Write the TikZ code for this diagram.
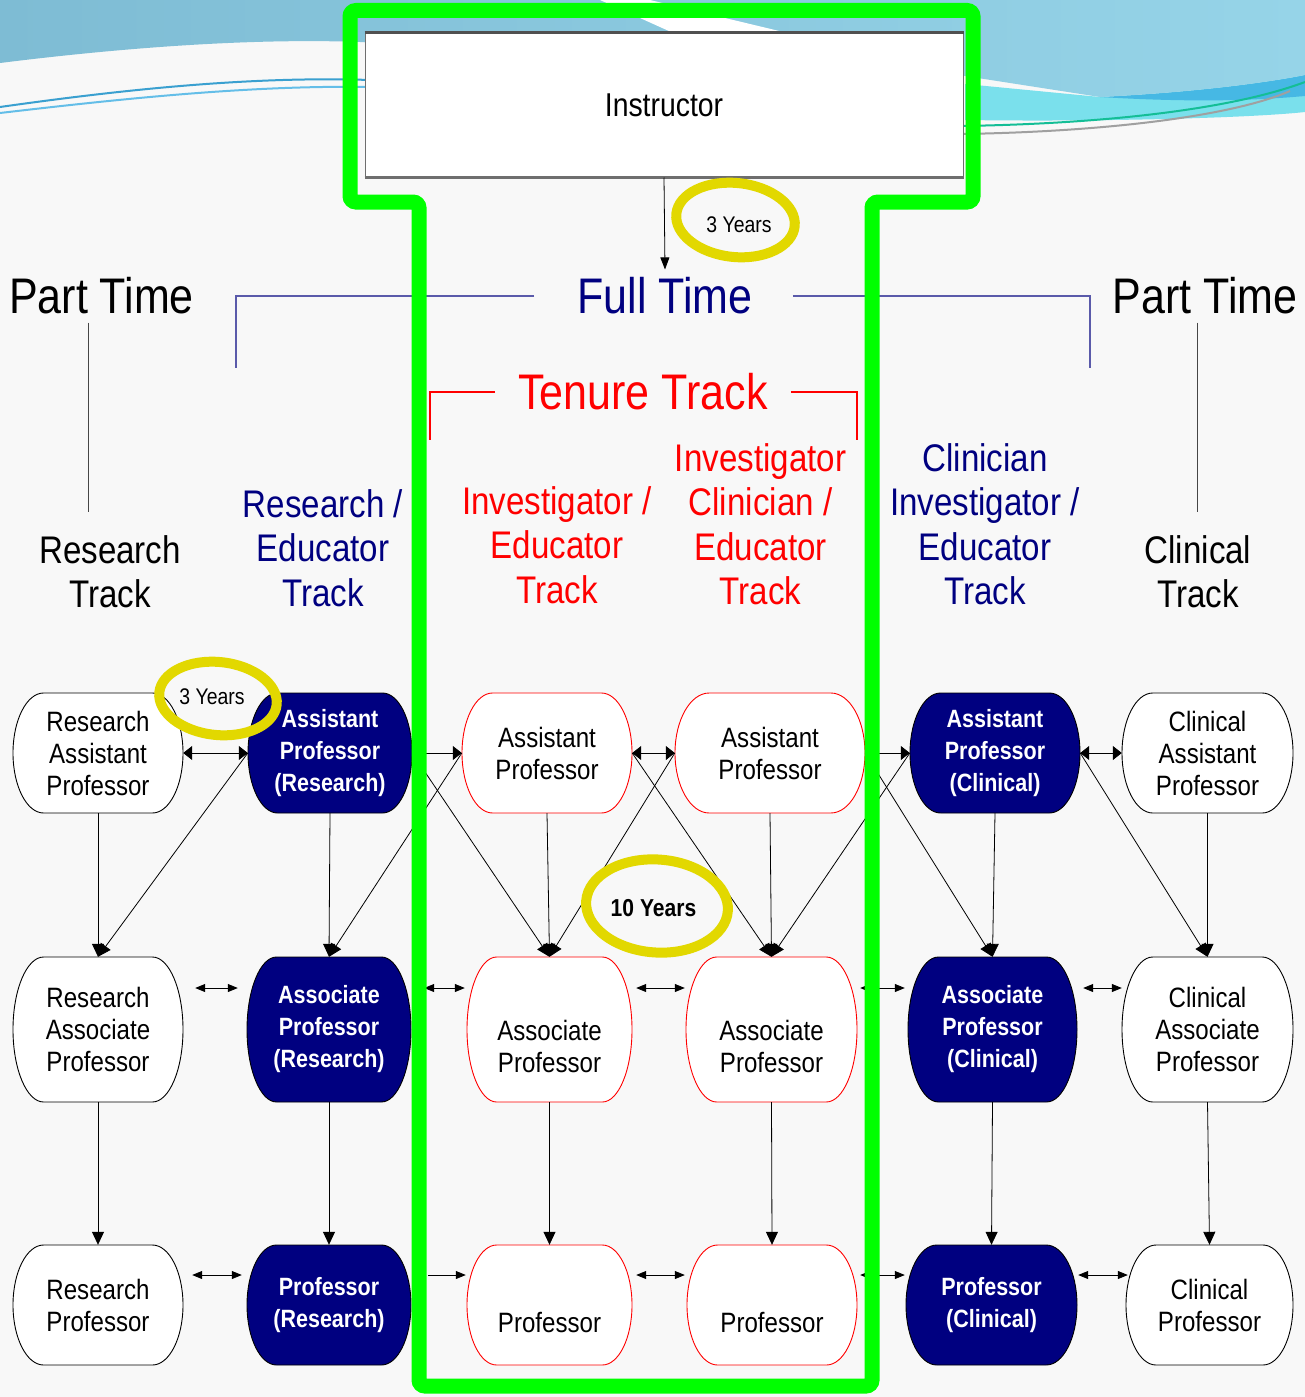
\documentclass[tikz,border=0pt]{standalone}
\usepackage{fontspec}
\setmainfont{Liberation Sans}[FakeStretch=0.86]
\usetikzlibrary{arrows.meta,calc}
\definecolor{navy}{RGB}{0,0,128}
\definecolor{tred}{RGB}{255,0,0}
\definecolor{brblue}{RGB}{90,90,170}
\definecolor{ylw}{RGB}{226,216,0}
\definecolor{grn}{RGB}{0,255,0}
\definecolor{bgc}{RGB}{248,248,248}
\definecolor{skyA}{RGB}{126,188,212}
\definecolor{skyB}{RGB}{150,212,232}
\definecolor{cyanband}{RGB}{122,224,236}
\definecolor{darkband}{RGB}{70,184,228}
\definecolor{lineA}{RGB}{58,160,208}
\definecolor{lineB}{RGB}{100,190,232}
\definecolor{lineT}{RGB}{20,190,150}
\definecolor{lineG}{RGB}{160,160,160}
\definecolor{insgray}{RGB}{110,110,110}
\definecolor{ptgray}{RGB}{70,70,70}
\definecolor{insdark}{RGB}{80,80,80}
\newcommand\gbox[8]{%
  \path[#2] ({#4-#6/2+0.18*#6},{#5-#7/2}) -- ({#4+#6/2-0.18*#6},{#5-#7/2})
    .. controls ({#4+#6/2-0.081*#6},{#5-#7/2}) and ({#4+#6/2},{#5-0.276*#7}) .. ({#4+#6/2},{#5})
    .. controls ({#4+#6/2},{#5+0.276*#7}) and ({#4+#6/2-0.081*#6},{#5+#7/2}) .. ({#4+#6/2-0.18*#6},{#5+#7/2})
    -- ({#4-#6/2+0.18*#6},{#5+#7/2})
    .. controls ({#4-#6/2+0.081*#6},{#5+#7/2}) and ({#4-#6/2},{#5+0.276*#7}) .. ({#4-#6/2},{#5})
    .. controls ({#4-#6/2},{#5-0.276*#7}) and ({#4-#6/2+0.081*#6},{#5-#7/2}) .. ({#4-#6/2+0.18*#6},{#5-#7/2})
    -- cycle;
  \node[#3, minimum width=#6, minimum height=#7] (#1) at (#4,#5) {#8};
}
\tikzset{
  wsh/.style={fill=white, draw=black, line width=0.9pt},
  rsh/.style={fill=white, draw=tred, line width=0.9pt},
  nsh/.style={fill=navy, draw=black, line width=0.9pt},
  wtxt/.style={align=center, inner sep=0pt, text=black, font=\fontsize{28}{32}\selectfont},
  ntxt/.style={align=center, inner sep=0pt, text=white, font=\fontsize{25}{32}\selectfont\bfseries},
  ttl/.style={inner sep=0pt, font=\fontsize{50}{56}\selectfont},
  hdr/.style={align=center, inner sep=0pt, font=\fontsize{38.5}{44.5}\selectfont},
  conn/.style={draw=black, line width=0.8pt},
  bigtip/.style={-{Triangle[length=13pt,width=12pt]}},
  htip/.style={{Triangle[length=9pt,width=14pt]}-{Triangle[length=9pt,width=14pt]}},
  htipr/.style={-{Triangle[length=9pt,width=14pt]}},
  stip/.style={{Triangle[length=10pt,width=8pt]}-{Triangle[length=10pt,width=8pt]}},
  stipr/.style={-{Triangle[length=10pt,width=8pt]}},
  brk/.style={draw=brblue, line width=1.2pt},
  rbrk/.style={draw=tred, line width=1.2pt},
  ptline/.style={draw=ptgray, line width=1pt},
  ring/.style={draw=ylw, line width=10pt},
  yrs/.style={inner sep=0pt, text=black, font=\fontsize{22.6}{26}\selectfont},
  yrsb/.style={inner sep=0pt, text=black, font=\fontsize{24.5}{28}\selectfont\bfseries},
}
\begin{document}
\begin{tikzpicture}[x=1pt,y=-1pt]
\useasboundingbox (0,0) rectangle (1305,1397);
% background
\fill[bgc] (0,0) rectangle (1305,1397);
\fill[cyanband] (965,84) -- (1100,97) .. controls (1200,92) and (1270,82) .. (1305,75)
  -- (1305,112) .. controls (1250,118) and (1100,122) .. (965,120) -- cycle;
\fill[darkband] (1100,97) .. controls (1200,92) and (1270,82) .. (1305,75)
  -- (1305,96) .. controls (1260,100) and (1200,103) .. (1100,97) -- cycle;
\shade[left color=skyA, right color=skyB] (0,0) -- (1305,0) -- (1305,75)
  .. controls (1270,82) and (1200,92) .. (1100,97) -- (965,76) -- (700,60) -- (360,42)
  .. controls (250,38) and (120,48) .. (0,63) -- cycle;
\fill[white] (600,0) -- (650,0) -- (800,36) -- (680,36) -- cycle;
\draw[lineA, line width=2pt] (0,107) .. controls (120,90) and (250,76) .. (370,80);
\draw[lineB, line width=2pt] (0,113) .. controls (120,99) and (250,85) .. (370,87);
\draw[lineT, line width=2pt] (960,126) .. controls (1100,124) and (1230,110) .. (1305,82);
\draw[lineG, line width=2pt] (960,134) .. controls (1100,132) and (1230,117) .. (1290,91);
% instructor
\node[draw=insgray, fill=white, line width=1pt, minimum width=598, minimum height=144,
  inner sep=0pt, font=\fontsize{33}{38}\selectfont] (INS) at (664,105) {Instructor};
\draw[line width=2.5pt, draw=insdark] (INS.north west) -- (INS.north east);
\draw[line width=2.5pt, draw=insgray] (INS.south west) -- (INS.south east);
% titles
\node[ttl, text=black] (PTL) at (101.5,296) {Part Time};
\node[ttl, text=navy] (FT) at (665,296) {Full Time};
\node[ttl, text=black] (PTR) at (1205,296) {Part Time};
\node[ttl, text=tred] (TT) at (643,392) {Tenure Track};
\draw[conn, -{Triangle[length=12pt,width=9pt]}] (INS.south) -- ([yshift=8pt]FT.north);
\coordinate (ftl) at (236,368);
\coordinate (ftr) at (1090,368);
\coordinate (ttl) at (430,440);
\coordinate (ttr) at (857,440);
\draw[brk] ([xshift=-43pt]FT.west) -| (ftl);
\draw[brk] ([xshift=40pt]FT.east) -| (ftr);
\draw[rbrk] ([xshift=-23pt]TT.west) -| (ttl);
\draw[rbrk] ([xshift=23pt]TT.east) -| (ttr);
% headers
\node[hdr, text=black] (RT) at (110,571.5) {Research\\Track};
\node[hdr, text=navy] (RET) at (323,548) {Research /\\Educator\\Track};
\node[hdr, text=tred] (IET) at (557,545) {Investigator /\\Educator\\Track};
\node[hdr, text=tred] (ICET) at (760.5,524) {Investigator\\Clinician /\\Educator\\Track};
\node[hdr, text=navy] (CIET) at (985,524) {Clinician\\Investigator /\\Educator\\Track};
\node[hdr, text=black] (CT) at (1198,571.5) {Clinical\\Track};
\draw[ptline, shorten <=8pt, shorten >=23pt] ([xshift=-13.5pt]PTL.south) -- ([xshift=-22pt]RT.north);
\draw[ptline, shorten <=8pt, shorten >=23pt] ([xshift=-8pt]PTR.south) -- ([xshift=-1pt]CT.north);
% row 1
\gbox{RAP}{wsh}{wtxt}{98}{753}{170}{120}{Research\\Assistant\\Professor}
\gbox{APR}{nsh}{ntxt}{330}{753}{164}{120}{Assistant\\Professor\\(Research)}
\gbox{APa}{rsh}{wtxt}{547}{753}{170}{120}{Assistant\\Professor}
\gbox{APb}{rsh}{wtxt}{770}{753}{190}{120}{Assistant\\Professor}
\gbox{APC}{nsh}{ntxt}{995}{753}{170}{120}{Assistant\\Professor\\(Clinical)}
\gbox{CAP}{wsh}{wtxt}{1207.5}{753}{171}{120}{Clinical\\Assistant\\Professor}
% row 2
\gbox{RAsc}{wsh}{wtxt}{98}{1029.5}{170}{145}{Research\\Associate\\Professor}
\gbox{ARA}{nsh}{ntxt}{329}{1029.5}{164}{145}{Associate\\Professor\\(Research)}
\gbox{AAa}{rsh}{wtxt}{549.5}{1029.5}{165}{145}{\strut\\Associate\\Professor}
\gbox{AAb}{rsh}{wtxt}{771.5}{1029.5}{171}{145}{\strut\\Associate\\Professor}
\gbox{ACA}{nsh}{ntxt}{992.5}{1029.5}{169}{145}{Associate\\Professor\\(Clinical)}
\gbox{CAsc}{wsh}{wtxt}{1207.5}{1029.5}{171}{145}{Clinical\\Associate\\Professor}
% row 3
\gbox{RPr}{wsh}{wtxt}{98}{1305}{170}{120}{Research\\Professor}
\gbox{PRs}{nsh}{ntxt}{329}{1305}{164}{120}{Professor\\(Research)}
\gbox{Pa}{rsh}{wtxt}{549.5}{1305}{165}{120}{\strut\\Professor}
\gbox{Pb}{rsh}{wtxt}{772}{1305}{170}{120}{\strut\\Professor}
\gbox{PCl}{nsh}{ntxt}{991.5}{1305}{171}{120}{Professor\\(Clinical)}
\gbox{CPr}{wsh}{wtxt}{1209.5}{1305}{167}{120}{Clinical\\Professor}
% row 1 horizontal
\draw[conn,htip] (RAP.east) -- (APR.west);
\draw[conn,htipr] (APR.east) -- (APa.west);
\draw[conn,htip] (APa.east) -- (APb.west);
\draw[conn,htipr] (APb.east) -- (APC.west);
\draw[conn,htip] (APC.east) -- (CAP.west);
% diagonals
\draw[conn,bigtip] (APR.west) -- (RAsc.north);
\draw[conn,bigtip] (APa.west) -- (ARA.north);
\draw[conn,bigtip] (APR.east) -- (AAa.north);
\draw[conn,bigtip] (APb.west) -- (AAa.north);
\draw[conn,bigtip] (APa.east) -- (AAb.north);
\draw[conn,bigtip] (APC.west) -- (AAb.north);
\draw[conn,bigtip] (APb.east) -- (ACA.north);
\draw[conn,bigtip] (APC.east) -- (CAsc.north);
% verticals
\draw[conn,bigtip] (RAP.south) -- (RAsc.north);
\draw[conn,bigtip] (APR.south) -- (ARA.north);
\draw[conn,bigtip] (APa.south) -- (AAa.north);
\draw[conn,bigtip] (APb.south) -- (AAb.north);
\draw[conn,bigtip] (APC.south) -- (ACA.north);
\draw[conn,bigtip] (CAP.south) -- (CAsc.north);
\draw[conn,bigtip] (RAsc.south) -- (RPr.north);
\draw[conn,bigtip] (ARA.south) -- (PRs.north);
\draw[conn,bigtip] (AAa.south) -- (Pa.north);
\draw[conn,bigtip] (AAb.south) -- (Pb.north);
\draw[conn,bigtip] (ACA.south) -- (PCl.north);
\draw[conn,bigtip] (CAsc.south) -- (CPr.north);
% row 2 horizontal
\draw[conn,stip] ([xshift=12pt,yshift=41.5pt]RAsc.east) -- ([xshift=-9pt,yshift=41.5pt]ARA.west);
\draw[conn,stip] ([xshift=13pt,yshift=41.5pt]ARA.east) -- ([xshift=-2pt,yshift=41.5pt]AAa.west);
\draw[conn,stip] ([xshift=4pt,yshift=41.5pt]AAa.east) -- ([xshift=-1pt,yshift=41.5pt]AAb.west);
\draw[conn,stip] ([xshift=3pt,yshift=41.5pt]AAb.east) -- ([xshift=-3pt,yshift=41.5pt]ACA.west);
\draw[conn,stip] ([xshift=6pt,yshift=41.5pt]ACA.east) -- ([xshift=0pt,yshift=41.5pt]CAsc.west);
% row 3 horizontal
\draw[conn,stip] ([xshift=9pt,yshift=30pt]RPr.east) -- ([xshift=-5pt,yshift=30pt]PRs.west);
\draw[conn,stipr] ([xshift=17pt,yshift=30pt]PRs.east) -- ([xshift=-1pt,yshift=30pt]Pa.west);
\draw[conn,stip] ([xshift=4pt,yshift=30pt]Pa.east) -- ([xshift=-2pt,yshift=30pt]Pb.west);
\draw[conn,stip] ([xshift=3pt,yshift=30pt]Pb.east) -- ([xshift=-1pt,yshift=30pt]PCl.west);
\draw[conn,stip] ([xshift=1pt,yshift=30pt]PCl.east) -- ([xshift=2pt,yshift=30pt]CPr.west);
% years labels
\node[yrs] (Y1) at (739,225) {3 Years};
\node[yrs] (Y2) at (212,697) {3 Years};
\node[yrsb] (Y3) at (653.5,908) {10 Years};
\draw[ring] (735.5,220) ellipse [x radius=59.5pt, y radius=37pt, rotate=-6];
\draw[ring] (218,698.5) ellipse [x radius=59pt, y radius=36.5pt, rotate=-6];
\draw[ring] (657,906) ellipse [x radius=71pt, y radius=46.5pt, rotate=-4];
% green frame
\draw[grn, line width=15pt, rounded corners=6pt] (350,10.5) -- (973,10.5) -- (973,202) -- (872,202)
  -- (872,1386) -- (419,1386) -- (419,202) -- (350,202) -- cycle;
\end{tikzpicture}
\end{document}
